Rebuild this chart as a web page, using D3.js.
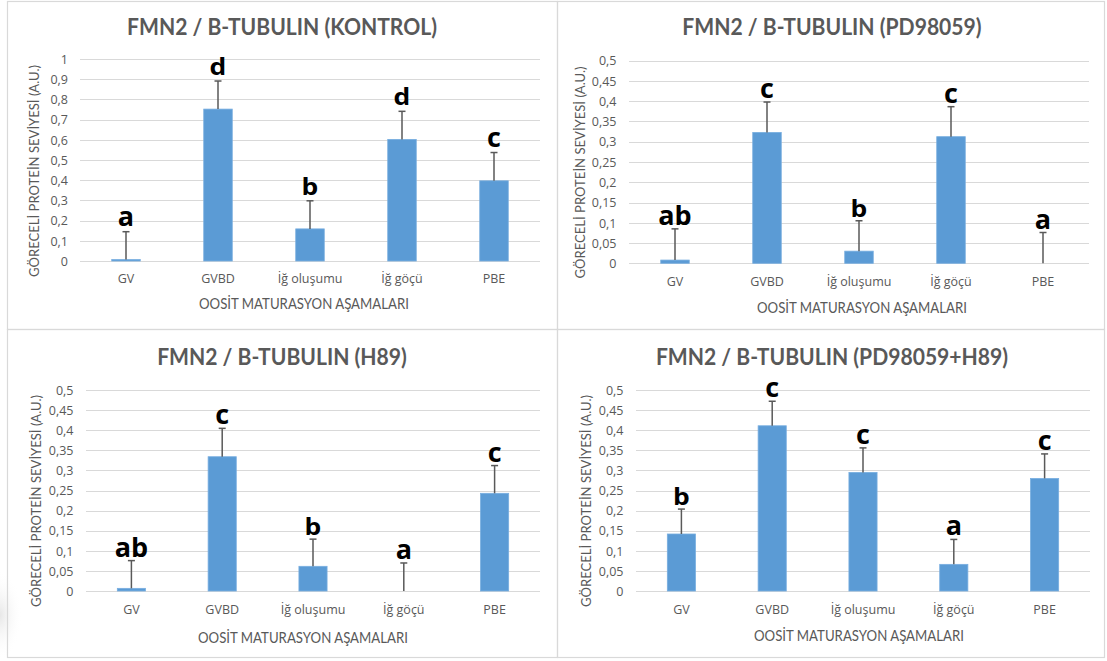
<!DOCTYPE html>
<html><head><meta charset="utf-8">
<script src="https://cdn.jsdelivr.net/npm/d3@7"></script>
<style>
html,body{margin:0;padding:0;background:#fff;}
svg{display:block;}
</style></head>
<body>
<svg id="chart" width="1107" height="661"></svg>
<script>
// ---------- DATA ----------
const categories = ["GV", "GVBD", "İğ oluşumu", "İğ göçü", "PBE"];
const titles = [
  "FMN2 / B-TUBULIN (KONTROL)",
  "FMN2 / B-TUBULIN (PD98059)",
  "FMN2 / B-TUBULIN (H89)",
  "FMN2 / B-TUBULIN (PD98059+H89)"
];
const xAxisTitle = "OOSİT MATURASYON AŞAMALARI";
const yAxisTitle = "GÖRECELİ PROTEİN SEVİYESİ (A.U.)";

const kontrolValues = [0.007, 0.752, 0.159, 0.602, 0.397];
const kontrolErrors = [0.138, 0.139, 0.139, 0.139, 0.140];
const kontrolLetters = ["a", "d", "b", "d", "c"];

const pdValues = [0.008, 0.323, 0.030, 0.3125, 0];
const pdErrors = [0.077, 0.075, 0.075, 0.074, 0.076];
const pdLetters = ["ab", "c", "b", "c", "a"];

const h89Values = [0.0066, 0.334, 0.0614, 0, 0.243];
const h89Errors = [0.069, 0.0706, 0.0676, 0.0697, 0.069];
const h89Letters = ["ab", "c", "b", "a", "c"];

const comboValues = [0.1418, 0.411, 0.295, 0.0663, 0.280];
const comboErrors = [0.062, 0.061, 0.061, 0.062, 0.061];
const comboLetters = ["b", "c", "c", "a", "c"];

const ticksKontrol = [0, 0.1, 0.2, 0.3, 0.4, 0.5, 0.6, 0.7, 0.8, 0.9, 1];
const ticksHalf = [0, 0.05, 0.1, 0.15, 0.2, 0.25, 0.3, 0.35, 0.4, 0.45, 0.5];

// ---------- LAYOUT ----------
const panels = [
  {values: kontrolValues, errors: kontrolErrors, letters: kontrolLetters, ticks: ticksKontrol, title: titles[0],
   border: [7, 1, 557, 329], plot: [80, 540], y0: 261, yTop: 59, titleX: 282, titleY: 35,
   tickX: 68, yTitleX: 34, yTitleY: 171, xLabY: 283, xTitleX: 304, xTitleY: 309, gap: 6},
  {values: pdValues, errors: pdErrors, letters: pdLetters, ticks: ticksHalf, title: titles[1],
   border: [557, 1, 1104, 329], plot: [629, 1089], y0: 263.3, yTop: 60.7, titleX: 832, titleY: 35,
   tickX: 616.5, yTitleX: 580.5, yTitleY: 172.5, xLabY: 286, xTitleX: 862, xTitleY: 313, gap: 4},
  {values: h89Values, errors: h89Errors, letters: h89Letters, ticks: ticksHalf, title: titles[2],
   border: [7, 329, 557, 657], plot: [86, 540], y0: 591, yTop: 390, titleX: 282, titleY: 365,
   tickX: 73.5, yTitleX: 36, yTitleY: 501, xLabY: 614, xTitleX: 303, xTitleY: 643, gap: 4},
  {values: comboValues, errors: comboErrors, letters: comboLetters, ticks: ticksHalf, title: titles[3],
   border: [557, 329, 1104, 657], plot: [636, 1090], y0: 591, yTop: 390, titleX: 832, titleY: 365,
   tickX: 623.5, yTitleX: 586.5, yTitleY: 501, xLabY: 614, xTitleX: 859, xTitleY: 641, gap: 4}
];

const svg = d3.select("#chart");
svg.append("rect").attr("width", 1107).attr("height", 661).attr("fill", "#fff");

// faint shadow at lower-left edge
const defs = svg.append("defs");
const rg = defs.append("radialGradient").attr("id", "shade");
rg.append("stop").attr("offset", "0%").attr("stop-color", "#e4e4e4").attr("stop-opacity", 0.9);
rg.append("stop").attr("offset", "100%").attr("stop-color", "#ffffff").attr("stop-opacity", 0);
svg.append("ellipse").attr("cx", 0).attr("cy", 615).attr("rx", 22).attr("ry", 45).attr("fill", "url(#shade)");

const loc = d3.formatLocale({decimal: ",", thousands: ".", grouping: [3], currency: ["", ""]});
const fmt = loc.format("~g");

const textGrey = "#595959";
const titleFont = "Lato, 'Open Sans', sans-serif";
const labelFont = "'Open Sans', sans-serif";

// measure title scale factor from first title
const measure = svg.append("text").attr("font-family", titleFont).attr("font-weight", 700)
  .attr("font-size", 22).text(titles[0]);
const titleK = 310 / measure.node().getComputedTextLength();
measure.remove();

panels.forEach(p => {
  const g = svg.append("g");
  // border
  g.append("rect")
    .attr("x", p.border[0] + 0.5).attr("y", p.border[1] + 0.5)
    .attr("width", p.border[2] - p.border[0]).attr("height", p.border[3] - p.border[1])
    .attr("fill", "none").attr("stroke", "#d9d9d9").attr("stroke-width", 1.2);

  const maxV = p.ticks[p.ticks.length - 1];
  const y = d3.scaleLinear().domain([0, maxV]).range([p.y0, p.yTop]);
  const x = d3.scaleBand().domain(categories).range(p.plot).paddingInner(0.69).paddingOuter(0.345);

  // gridlines
  g.append("g").selectAll("line").data(p.ticks).join("line")
    .attr("x1", p.plot[0]).attr("x2", p.plot[1])
    .attr("y1", d => Math.round(y(d)) + 0.5).attr("y2", d => Math.round(y(d)) + 0.5)
    .attr("stroke", "#d9d9d9").attr("stroke-width", 1);

  // y axis labels
  const ya = g.append("g").attr("transform", `translate(${p.tickX},0)`)
    .call(d3.axisLeft(y).tickValues(p.ticks).tickFormat(fmt).tickSize(0).tickPadding(0));
  ya.select(".domain").remove();
  ya.selectAll("text").attr("font-family", labelFont).attr("font-size", 12.5)
    .attr("fill", textGrey).attr("dy", "0.34em");

  // x axis labels
  const xa = g.append("g").attr("transform", `translate(0,${p.xLabY})`)
    .call(d3.axisBottom(x).tickSize(0).tickPadding(0));
  xa.select(".domain").remove();
  xa.selectAll("text").attr("y", 0).attr("dy", 0).attr("font-family", labelFont)
    .attr("font-size", 12.5).attr("fill", textGrey);

  // bars
  g.append("g").selectAll("rect").data(p.values).join("rect")
    .attr("x", (d, i) => x(categories[i]))
    .attr("width", x.bandwidth())
    .attr("y", d => y(d))
    .attr("height", d => p.y0 - y(d))
    .attr("fill", "#5b9bd5")
    .attr("stroke", d => d > 0 ? "#78aee0" : "none").attr("stroke-width", 0.8);

  // error bars
  const eb = g.append("g").attr("stroke", "#595959").attr("stroke-width", 1.5);
  p.values.forEach((v, i) => {
    const cx = x(categories[i]) + x.bandwidth() / 2;
    const top = y(v + p.errors[i]);
    eb.append("line").attr("x1", cx).attr("x2", cx).attr("y1", y(v)).attr("y2", top);
    eb.append("line").attr("x1", cx - 3.5).attr("x2", cx + 3.5).attr("y1", top).attr("y2", top);
  });

  // significance letters
  const lt = g.append("g").selectAll("text").data(p.letters).join("text")
    .attr("x", (d, i) => x(categories[i]) + x.bandwidth() / 2)
    .attr("y", (d, i) => y(p.values[i] + p.errors[i]) - p.gap)
    .attr("text-anchor", "middle")
    .attr("font-family", labelFont).attr("font-weight", 700)
    .attr("font-size", d => (d === "b" || d === "d") ? 23 : 27)
    .attr("fill", "#000")
    .text(d => d);
  lt.each(function(d) {
    if (d === "b" || d === "d") {
      const w = this.getComputedTextLength();
      d3.select(this).attr("textLength", w * 1.15).attr("lengthAdjust", "spacingAndGlyphs");
    }
  });

  // title
  const t = g.append("text").attr("x", p.titleX).attr("y", p.titleY)
    .attr("text-anchor", "middle").attr("font-family", titleFont).attr("font-weight", 700)
    .attr("font-size", 22).attr("fill", textGrey).text(p.title);
  const tw = t.node().getComputedTextLength() * titleK;
  t.attr("textLength", tw).attr("lengthAdjust", "spacingAndGlyphs");

  // x axis title
  g.append("text").attr("x", p.xTitleX).attr("y", p.xTitleY).attr("text-anchor", "middle")
    .attr("font-family", "Lato, sans-serif").attr("font-size", 14.5).attr("fill", textGrey)
    .attr("textLength", 210).attr("lengthAdjust", "spacingAndGlyphs").text(xAxisTitle);

  // y axis title
  g.append("text").attr("transform", `translate(${p.yTitleX},${p.yTitleY}) rotate(-90)`)
    .attr("text-anchor", "middle").attr("dy", "0.36em")
    .attr("font-family", "Lato, sans-serif").attr("font-size", 13).attr("fill", textGrey)
    .attr("textLength", 212).attr("lengthAdjust", "spacingAndGlyphs").text(yAxisTitle);
});
</script>
</body></html>
